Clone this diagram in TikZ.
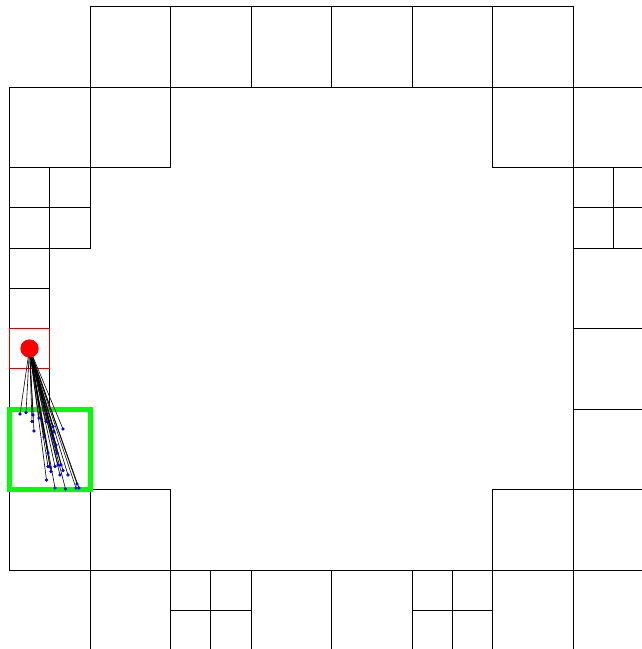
\documentclass[tikz,border=0pt]{standalone}
\begin{document}
\begin{tikzpicture}[x=1pt,y=-1pt,
  cell/.style={draw=black,line width=0.9pt},
  redcell/.style={draw=red!85!black,line width=1pt},
  focus/.style={draw=green,line width=5pt},
  link/.style={draw=black,line width=0.6pt},
  pt/.style={circle,fill=blue,inner sep=0pt,minimum size=3.2pt},
  src/.style={circle,fill=red,inner sep=0pt,minimum size=18pt}]
\useasboundingbox (0,0) rectangle (642,649);
\clip (0,0) rectangle (642,649);
\def\U{80.5}
\def\H{40.25}
% big squares: column/row pairs
\foreach \c/\r in {1/0,2/0,3/0,4/0,5/0,6/0,
  0/1,1/1,6/1,7/1,
  7/3,7/4,7/5,
  0/6,1/6,6/6,7/6,
  1/7,3/7,4/7,6/7,7/7}
  \draw[cell] ({9.5+\U*\c},{6.5+\U*\r}) rectangle ++(\U,\U);
% split squares (four quarters)
\foreach \c/\r in {0/2,7/2,2/7,5/7}
  \foreach \i in {0,1}
    \foreach \j in {0,1}
      \draw[cell] ({9.5+\U*\c+\H*\i},{6.5+\U*\r+\H*\j}) rectangle ++(\H,\H);
% left column small squares
\draw[cell] (9.5,248) rectangle ++(\H,\H);
\draw[cell] (9.5,288.25) rectangle ++(\H,\H);
\draw[cell] (9.5,368.75) rectangle ++(\H,\H);
\draw[redcell] (9.5,328.5) rectangle ++(\H,\H);
% focus square
\draw[focus] (9.5,409) rectangle ++(\U,\U);
% source and samples
\node[src] (r) at (29.5,348.5) {};
\foreach \n/\x/\y in {1/20/414,2/26/412.5,3/33/415,4/32/421.5,5/34/431,
  6/39/418,7/46/421.5,8/53/426.5,9/63/429,10/54/432,11/44/437,12/53/438,
  13/56/445,14/48/453,15/57/453,16/48/466.5,17/51/471.5,18/55/466.5,
  19/58/465,20/60/475,21/63/470.5,22/68/475,23/46.5/480,24/55/488,
  25/65.5/489,26/76/488,27/77/484,28/79/488,29/50/467,30/61/465}
  \node[pt] (p\n) at (\x,\y) {};
\foreach \n in {1,...,30}
  \draw[link] (r.center) -- (p\n.center);
\foreach \n in {1,...,30}
  \fill[blue] (p\n) circle (1.6pt);
\node[src] at (r) {};
\end{tikzpicture}
\end{document}
